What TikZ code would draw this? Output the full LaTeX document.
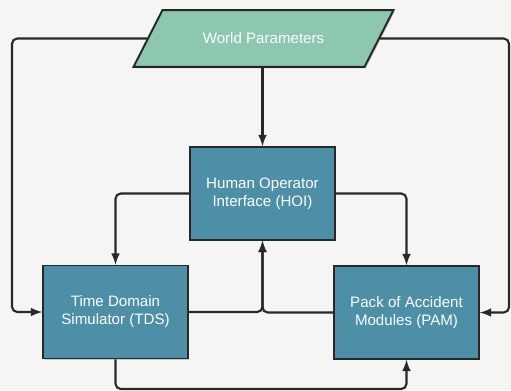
\documentclass[tikz,border=0pt]{standalone}
\usepackage{fontspec}
\setmainfont{Liberation Sans}
\usetikzlibrary{arrows,shapes.geometric,shadows}

\definecolor{wpgreen}{RGB}{140,199,174}
\definecolor{modteal}{RGB}{76,143,166}
\definecolor{linegray}{RGB}{40,40,40}
\definecolor{paper}{RGB}{245,245,243}

\tikzset{
  module/.style={draw=linegray, line width=0.9pt, fill=modteal, text=white,
    align=center, minimum width=2.9cm, minimum height=1.86cm,
    drop shadow={shadow xshift=0.8pt, shadow yshift=-0.8pt, opacity=0.35}},
  world/.style={trapezium, trapezium left angle=63, trapezium right angle=117,
    trapezium stretches body, draw=black!85, line width=1.1pt, fill=wpgreen,
    text=white, inner ysep=13pt, minimum width=5.2cm,
    drop shadow={shadow xshift=0.8pt, shadow yshift=-0.8pt, opacity=0.35}},
  link/.style={->, draw=linegray, line width=1.2pt, rounded corners=3pt}
}

\begin{document}
\begin{tikzpicture}[thick, >= latex, x=0.02cm, y=-0.02cm,
  font=\fontsize{8.6}{10.2}\selectfont]

\fill[paper] (0,0) rectangle (511,390);
\useasboundingbox (0,0) rectangle (511,390);

\node[world] (wp) at (263.5,38.5) {World Parameters};
\node[module] (hoi) at (262.5,193.5) {Human Operator\\Interface (HOI)};
\node[module] (tds) at (115.5,312) {Time Domain\\Simulator (TDS)};
\node[module] (pam) at (406.5,312.5) {Pack of Accident\\Modules (PAM)};

\coordinate (lft) at (12,312);
\coordinate (rgt) at (509,312.5);
\coordinate (bot) at (262,389);

\draw[link] (hoi.north |- wp.south) -- (hoi.north);
\draw[link] (wp.west) -| (lft) -- (tds.west);
\draw[link] (wp.east) -| (rgt) -- (pam.east);

\draw[link] (hoi.west) -| (tds.north);
\draw[link] (hoi.east) -| (pam.north);

\draw[link] (tds.east) -| (hoi.south);
\draw[link] (pam.west) -| (hoi.south);

\draw[link] (tds.south) |- (bot) -| (pam.south);

\end{tikzpicture}
\end{document}
